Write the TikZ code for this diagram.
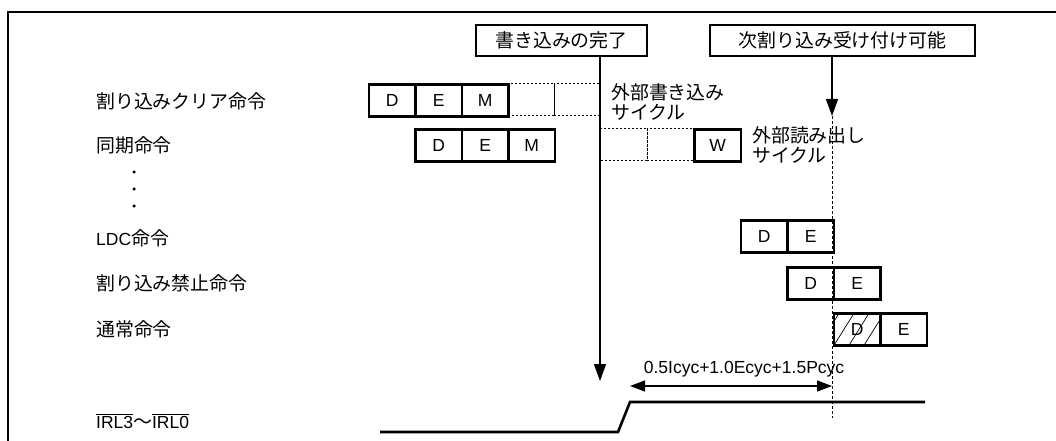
\documentclass[tikz,border=0pt]{standalone}
\usepackage{fontspec}
\setmainfont{Liberation Sans}
\newfontfamily\jp[Scale=1.08]{Noto Sans CJK JP}
\usetikzlibrary{arrows.meta, positioning}
\newcommand\cw{46.5}

\begin{document}
\begin{tikzpicture}[x=1pt, y=-1pt, font=\fontsize{17.5}{21}\selectfont,
    cell/.style = {draw, line width=2.8pt, minimum width=\cw pt, minimum height=32pt, inner sep=0pt, anchor=north west},
    ghost/.style = {draw, line width=1pt, dash pattern=on 2pt off 2pt, minimum width=\cw pt, minimum height=32pt, inner sep=0pt, anchor=north west},
    tag/.style = {draw, line width=2.8pt, minimum height=31pt, inner sep=0pt},
    lbl/.style = {anchor=west, inner sep=0pt},
    cyc/.style = {anchor=west, inner sep=0pt, align=left, font=\fontsize{17.5}{20.5}\selectfont\jp},
    arr/.style = {line width=1.3pt, -{Triangle[length=17pt, width=12pt]}},
    dim/.style = {line width=1.3pt, {Triangle[length=15pt, width=11pt]}-{Triangle[length=15pt, width=11pt]}},
    sig/.style = {line width=2.6pt},
    hatch/.style = {path picture={\foreach \i in {-1,...,3}
        \draw [line width=0.7pt] ([xshift=\i*15pt]path picture bounding box.south west) -- ++(20pt,32pt);}}]
  \useasboundingbox (0,0) rectangle (1056,441);
  \draw [line width=2pt] (8,441) -- (8,12) -- (1056,12);

  % instruction names
  \node [lbl] (clr) at (96,101) {\jp 割り込みクリア命令};
  \node [lbl] (sync) at (96,145) {\jp 同期命令};
  \foreach \y [count=\i] in {172,189,206}
    \node [circle, fill, minimum size=3.5pt, inner sep=0pt] (dot\i) at (134,\y) {};
  \node [lbl] (ldc) at (96,238) {LDC{\jp 命令}};
  \node [lbl] (dis) at (96,283) {\jp 割り込み禁止命令};
  \node [lbl] (norm) at (96,329) {\jp 通常命令};
  \node [lbl] (irl) at (96,421) {$\overline{\mbox{IRL3}}${\jp 〜}$\overline{\mbox{IRL0}}$};

  % pipeline stages
  \foreach \k/\y/\t/\n in {-5/83/D/cd, -4/83/E/ce, -3/83/M/cm,
                           -4/128/D/sd, -3/128/E/se, -2/128/M/sm, 2/128/W/sw,
                           3/219/D/ld, 4/219/E/le, 4/266/D/id, 5/266/E/ie, 6/312/E/ne}
    \node [cell] (\n) at ({600+\k*\cw}, \y) {\t};
  \node [cell, hatch] (nd) at ({600+5*\cw}, 312) {D};
  \foreach \k/\y [count=\i] in {-2/83, -1/83, 0/128, 1/128}
    \node [ghost] (g\i) at ({600+\k*\cw}, \y) {};
  \node [cyc] (wcyc) at (611,102) {外部書き込み\\サイクル};
  \node [cyc] (rcyc) at (752,145) {外部読み出し\\サイクル};

  % events
  \node [tag, minimum width=171pt] (done) at (561.5,40.5) {\jp 書き込みの完了};
  \node [tag, minimum width=265pt] (next) at (842.5,40.5) {\jp 次割り込み受け付け可能};
  \coordinate (wend) at (600,381);
  \coordinate (iend) at (832,116);
  \coordinate (ibot) at (832,418);
  \draw [arr] (done.south -| wend) -- (wend);
  \draw [arr] (next.south -| iend) -- (iend);
  \draw [line width=1pt, dash pattern=on 3pt off 2pt] (iend) -- (ibot);

  % IRL level
  \draw [sig] (380,432) -- (618,432) -- (630,402) -- (925,402);
  \coordinate (da) at (630,386);
  \draw [dim] (da) -- (da -| ibot);
  \node (span) at (744,369) {0.5Icyc+1.0Ecyc+1.5Pcyc};
\end{tikzpicture}
\end{document}
